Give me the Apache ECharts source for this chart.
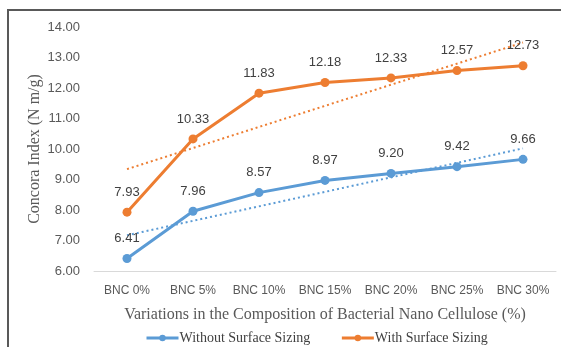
<!DOCTYPE html>
<html>
<head>
<meta charset="utf-8">
<script src="https://cdn.jsdelivr.net/npm/echarts@6/dist/echarts.min.js"></script>
<style>html,body{margin:0;padding:0;background:#fff}#c{width:561px;height:347px}</style>
</head>
<body>
<div id="c"></div>
<script>
var categories = ['BNC 0%', 'BNC 5%', 'BNC 10%', 'BNC 15%', 'BNC 20%', 'BNC 25%', 'BNC 30%'];
var withoutSizing = [6.41, 7.96, 8.57, 8.97, 9.20, 9.42, 9.66];
var withSizing = [7.93, 10.33, 11.83, 12.18, 12.33, 12.57, 12.73];
// trendline endpoints (first and last category)
var trendWithout = [7.17, 10.02];
var trendWith = [9.34, 13.49];
var yTicks = { min: 6, max: 14, interval: 1 };

var blue = '#5B9BD5', orange = '#ED7D31';
var chart = echarts.init(document.getElementById('c'));
function trend(vals) {
  return [[0, vals[0]], [categories.length - 1, vals[1]]];
}
chart.setOption({
  animation: false,
  graphic: [
    { type: 'line', shape: { x1: 7, y1: 10, x2: 561, y2: 10 }, style: { stroke: '#595959', lineWidth: 2 } },
    { type: 'line', shape: { x1: 8, y1: 10, x2: 8, y2: 347 }, style: { stroke: '#595959', lineWidth: 2 } }
  ],
  grid: { left: 94, right: 5, top: 27, bottom: 76 },
  legend: {
    left: 140, top: 326, itemWidth: 32, itemHeight: 8, itemGap: 30,
    data: [{ name: 'Without Surface Sizing' }, { name: 'With Surface Sizing' }],
    lineStyle: { width: 3 },
    textStyle: { fontFamily: 'Liberation Serif', fontSize: 14, color: '#404040', padding: [0, 0, 0, -4] }
  },
  xAxis: {
    type: 'category', data: categories, boundaryGap: true,
    name: 'Variations in the Composition of Bacterial Nano Cellulose (%)',
    nameLocation: 'middle', nameGap: 36, nameMoveOverlap: false,
    nameTextStyle: { fontFamily: 'Liberation Serif', fontSize: 16, color: '#595959' },
    axisLine: { lineStyle: { color: '#D9D9D9' } },
    axisTick: { show: false },
    axisLabel: { interval: 0, hideOverlap: false, fontFamily: 'Liberation Sans', fontSize: 12, color: '#595959', margin: 14 }
  },
  yAxis: {
    type: 'value', min: yTicks.min, max: yTicks.max, interval: yTicks.interval,
    name: 'Concora Index (N m/g)', nameLocation: 'middle', nameGap: 51, nameMoveOverlap: false,
    nameTextStyle: { fontFamily: 'Liberation Serif', fontSize: 16, color: '#595959' },
    axisLine: { show: false }, axisTick: { show: false }, splitLine: { show: false },
    axisLabel: { fontFamily: 'Liberation Sans', fontSize: 13, color: '#595959', margin: 14,
      formatter: function (v) { return v.toFixed(2); } }
  },
  series: [
    { name: 'Without Surface Sizing', type: 'line', data: withoutSizing, color: blue,
      symbol: 'circle', symbolSize: 9, lineStyle: { width: 3 },
      label: { show: true, position: 'top', distance: 9, fontFamily: 'Liberation Sans', fontSize: 13, color: '#404040',
        formatter: function (p) { return p.value.toFixed(2); } }, z: 3 },
    { name: 'With Surface Sizing', type: 'line', data: withSizing, color: orange,
      symbol: 'circle', symbolSize: 9, lineStyle: { width: 3 },
      label: { show: true, position: 'top', distance: 9, fontFamily: 'Liberation Sans', fontSize: 13, color: '#404040',
        formatter: function (p) { return p.value.toFixed(2); } }, z: 3 },
    { name: 'trend1', type: 'line', data: trend(trendWithout), symbol: 'none', silent: true,
      lineStyle: { color: blue, width: 2, type: [2, 3] }, z: 2 },
    { name: 'trend2', type: 'line', data: trend(trendWith), symbol: 'none', silent: true,
      lineStyle: { color: orange, width: 2, type: [2, 3] }, z: 2 }
  ]
});
</script>
</body>
</html>
